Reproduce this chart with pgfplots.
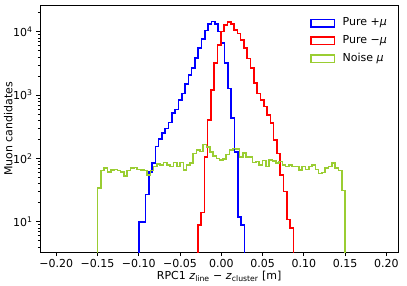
\documentclass[border=0pt]{standalone}
\usepackage{fontspec}
\setmainfont{DejaVu Sans}
\usepackage{pgfplots}
\pgfplotsset{compat=1.18}
\usepackage{pgfplotstable}

\definecolor{hblue}{RGB}{0,0,255}
\definecolor{hred}{RGB}{255,0,0}
\definecolor{hgreen}{RGB}{154,205,50}

\pgfplotstableread{
x y
-0.100 1
-0.100 10
-0.096 10
-0.092 27
-0.088 61
-0.084 84
-0.080 153
-0.076 202
-0.072 249
-0.068 296
-0.064 366
-0.060 515
-0.056 595
-0.052 835
-0.048 1065
-0.044 1494
-0.040 2072
-0.036 2643
-0.032 3802
-0.028 5470
-0.024 7586
-0.020 10370
-0.016 13240
-0.012 14390
-0.008 13240
-0.004 10000
0.000 6560
0.004 3170
0.008 1277
0.012 434
0.016 127
0.020 12
0.024 8.9
0.028 8.9
0.028 1
}\bluetab

\pgfplotstableread{
x y
-0.0286 1
-0.0286 8.9
-0.0246 13.9
-0.0206 104
-0.0166 403
-0.0126 1200
-0.0086 3170
-0.0046 6165
-0.0006 10000
0.0034 12760
0.0074 14300
0.0114 13100
0.0154 10640
0.0194 9430
0.0234 7390
0.0274 5470
0.0314 3800
0.0354 2670
0.0394 1550
0.0434 1065
0.0474 835
0.0514 655
0.0554 484
0.0594 358
0.0634 195
0.0674 120
0.0714 54.6
0.0754 29.8
0.0794 10.9
0.0834 7.9
0.0874 7.9
0.0874 1
}\redtab

\pgfplotstableread{
x y
-0.150 1
-0.150 34
-0.146 64
-0.142 70
-0.138 61
-0.134 65
-0.130 67
-0.126 64
-0.122 61
-0.118 53
-0.114 64
-0.110 70
-0.106 72
-0.102 67
-0.098 65
-0.094 64
-0.090 55
-0.086 64
-0.082 74
-0.078 81
-0.074 78
-0.070 86
-0.066 78
-0.062 74
-0.058 86
-0.054 74
-0.050 86
-0.046 65
-0.042 78
-0.038 84
-0.034 120
-0.030 137
-0.026 128
-0.022 165
-0.018 150
-0.014 125
-0.010 110
-0.006 100
-0.002 94
0.002 97
0.006 115
0.010 135
0.014 144
0.018 140
0.022 104
0.026 122
0.030 104
0.034 104
0.038 86
0.042 89
0.046 78
0.050 92
0.054 74
0.058 95
0.062 90
0.066 84
0.070 89
0.074 78
0.078 74
0.082 78
0.086 74
0.090 74
0.094 65
0.098 74
0.102 67
0.106 74
0.110 78
0.114 67
0.118 58
0.122 60
0.126 70
0.130 74
0.134 84
0.138 70
0.142 64
0.146 31
0.150 31
0.150 1
}\noisetab

\newcommand{\lblfont}{\fontsize{11}{13}\selectfont}

\begin{document}
\begin{tikzpicture}
\begin{axis}[
  at={(0,0)}, anchor=south west,
  scale only axis, width=358.3pt, height=246.6pt,
  ymode=log,
  xmin=-0.2198, xmax=0.2145, ymin=3.29, ymax=25730,
  axis line style={line width=0.8pt},
  tick align=outside, xtick pos=bottom, ytick pos=left,
  major tick length=3.9pt, minor tick length=2.2pt,
  every tick/.style={black, line width=0.8pt},
  every minor tick/.style={black, line width=0.6pt},
  xtick={-0.2,-0.15,-0.1,-0.05,0,0.05,0.1,0.15,0.2},
  xticklabels={−0.20,−0.15,−0.10,−0.05,0.00,0.05,0.10,0.15,0.20},
  ytick={10,100,1000,10000},
  yticklabels={10\textsuperscript{1},10\textsuperscript{2},10\textsuperscript{3},10\textsuperscript{4}},
  minor ytick={4,5,6,7,8,9,20,30,40,50,60,70,80,90,200,300,400,500,600,700,800,900,2000,3000,4000,5000,6000,7000,8000,9000,20000},
  tick label style={font=\lblfont},
  ylabel={Muon candidates},
  xlabel={RPC1 \textit{z}\textsubscript{line} − \textit{z}\textsubscript{cluster} [m]},
  every axis y label/.style={at={(axis description cs:-0.0885,0.5)}, rotate=90, anchor=center, font=\lblfont},
  every axis x label/.style={at={(axis description cs:0.5,-0.1095)}, anchor=base, font=\lblfont},
  legend style={draw=none, fill=none, at={(axis description cs:0.7536,0.955)}, anchor=north west,
    inner sep=0pt, row sep=5.2pt, column sep=6.5pt, font=\lblfont,
    nodes={inner sep=1pt, text height=8pt, text depth=2.5pt}},
  legend cell align=left,
  legend image code/.code={\draw[#1, line width=1.6pt] (0pt,-3.7pt) rectangle (23.3pt,3.7pt);},
]
\addplot[hblue, line width=1.6pt, const plot mark left] table[x=x,y=y] {\bluetab};
\addlegendentry{Pure +\textit{μ}}
\addplot[hred, line width=1.6pt, const plot mark left] table[x=x,y=y] {\redtab};
\addlegendentry{Pure −\textit{μ}}
\addplot[hgreen, line width=1.6pt, const plot mark left] table[x=x,y=y] {\noisetab};
\addlegendentry{Noise \textit{μ}}
\end{axis}
\pgfresetboundingbox
\path[use as bounding box] (-40pt,-32.7pt) rectangle (367pt,252.3pt);
\end{tikzpicture}
\end{document}
